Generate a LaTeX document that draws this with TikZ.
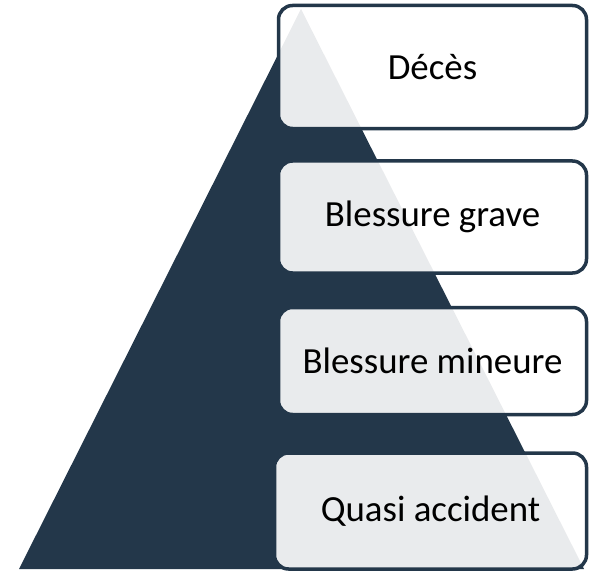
\documentclass[tikz,border=0pt]{standalone}
\usepackage{fontspec}
\setmainfont{Carlito}
\definecolor{pyrnavy}{HTML}{23374A}
\tikzset{
	levelbox/.style={draw=pyrnavy, line width=3.5bp, rounded corners=14bp, fill=white, fill opacity=0.9, text opacity=1, minimum width=308bp, font=\fontsize{37}{40}\selectfont, inner sep=0pt},
}
\begin{document}
\begin{tikzpicture}[x=1bp, y=-1bp]
	\useasboundingbox (0,0) rectangle (590,574);
	
	\fill[pyrnavy] (301,9) -- (19,569) -- (584,569) -- cycle;
	
	\node[levelbox, minimum height=123bp] (deces) at (432.5,67) {Décès};
	\node[levelbox, minimum height=112bp] (grave) at (432.5,217) {Blessure grave};
	\node[levelbox, minimum height=107bp] (mineure) at (432.5,361) {Blessure mineure};
	\node[levelbox, minimum height=116bp, minimum width=312bp] (quasi) at (430.5,511) {Quasi accident};
\end{tikzpicture}
\end{document}
